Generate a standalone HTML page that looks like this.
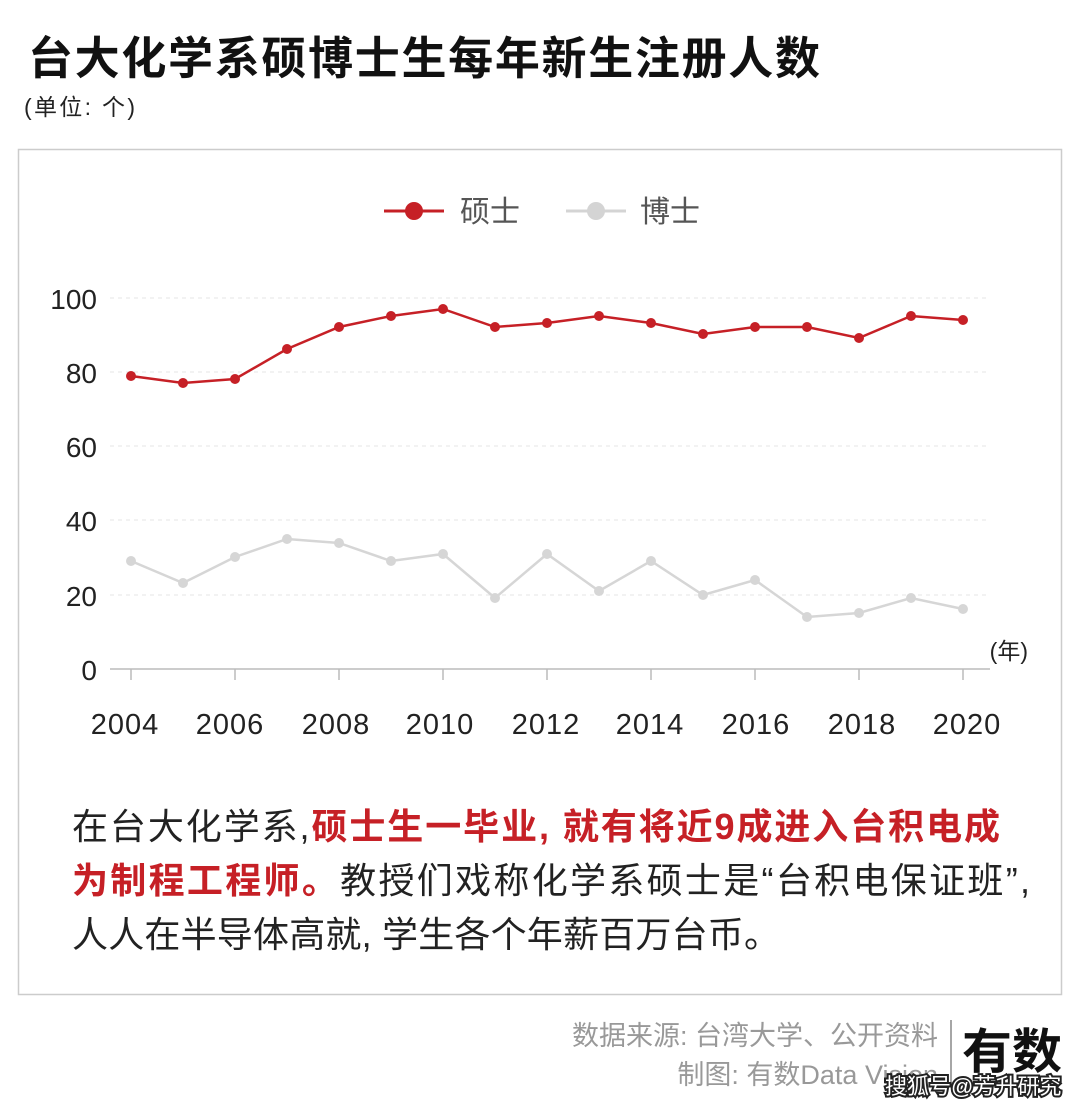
<!DOCTYPE html>
<html><head><meta charset="utf-8"><style>
html,body{margin:0;padding:0;background:#fff;}
svg{display:block;}
text{font-family:"Liberation Sans","Noto Sans CJK SC",sans-serif;}
</style></head><body>
<svg width="1080" height="1112" viewBox="0 0 1080 1112" xmlns="http://www.w3.org/2000/svg">
<rect width="1080" height="1112" fill="#fff"/>
<text x="28" y="74" font-size="45" font-weight="bold" fill="#111" textLength="792" lengthAdjust="spacing">台大化学系硕博士生每年新生注册人数</text>
<text x="24" y="115" font-size="23" fill="#222" textLength="111" lengthAdjust="spacing">(单位: 个)</text>
<rect x="18.5" y="149.5" width="1043" height="845" fill="none" stroke="#ccc" stroke-width="1.5"/>
<line x1="384" y1="211" x2="444" y2="211" stroke="#c62026" stroke-width="3"/>
<circle cx="414" cy="211" r="9" fill="#c62026"/>
<text x="460" y="222" font-size="30" fill="#555">硕士</text>
<line x1="566" y1="211" x2="626" y2="211" stroke="#d4d4d4" stroke-width="3"/>
<circle cx="596" cy="211" r="9" fill="#d4d4d4"/>
<text x="640" y="222" font-size="30" fill="#555">博士</text>
<g stroke="#e4e4e4" stroke-width="1" stroke-dasharray="4,4">
<line x1="110" y1="298" x2="990" y2="298"/>
<line x1="110" y1="372" x2="990" y2="372"/>
<line x1="110" y1="446" x2="990" y2="446"/>
<line x1="110" y1="520" x2="990" y2="520"/>
<line x1="110" y1="595" x2="990" y2="595"/>
</g>
<line x1="110" y1="669" x2="990" y2="669" stroke="#bbb" stroke-width="1.5"/>
<g font-size="28" fill="#222" text-anchor="end">
<text x="97" y="309">100</text><text x="97" y="383">80</text><text x="97" y="457">60</text>
<text x="97" y="531">40</text><text x="97" y="606">20</text><text x="97" y="680">0</text>
</g>
<text x="1028" y="659" font-size="23" fill="#222" text-anchor="end">(年)</text>
<g stroke="#bbb" stroke-width="1.5">
<line x1="131" y1="669" x2="131" y2="680"/><line x1="235" y1="669" x2="235" y2="680"/><line x1="339" y1="669" x2="339" y2="680"/><line x1="443" y1="669" x2="443" y2="680"/><line x1="547" y1="669" x2="547" y2="680"/><line x1="651" y1="669" x2="651" y2="680"/><line x1="755" y1="669" x2="755" y2="680"/><line x1="859" y1="669" x2="859" y2="680"/><line x1="963" y1="669" x2="963" y2="680"/>
</g>
<g font-size="29" fill="#222" text-anchor="middle" letter-spacing="1">
<text x="125" y="734">2004</text><text x="230" y="734">2006</text><text x="336" y="734">2008</text><text x="440" y="734">2010</text><text x="546" y="734">2012</text><text x="650" y="734">2014</text><text x="756" y="734">2016</text><text x="862" y="734">2018</text><text x="967" y="734">2020</text>
</g>
<polyline fill="none" stroke="#d6d6d6" stroke-width="2.5" points="131,561 183,583 235,557 287,539 339,543 391,561 443,554 495,598 547,554 599,591 651,561 703,595 755,580 807,617 859,613 911,598 963,609"/>
<g fill="#d6d6d6">
<circle cx="131" cy="561" r="5"/><circle cx="183" cy="583" r="5"/><circle cx="235" cy="557" r="5"/><circle cx="287" cy="539" r="5"/><circle cx="339" cy="543" r="5"/><circle cx="391" cy="561" r="5"/><circle cx="443" cy="554" r="5"/><circle cx="495" cy="598" r="5"/><circle cx="547" cy="554" r="5"/><circle cx="599" cy="591" r="5"/><circle cx="651" cy="561" r="5"/><circle cx="703" cy="595" r="5"/><circle cx="755" cy="580" r="5"/><circle cx="807" cy="617" r="5"/><circle cx="859" cy="613" r="5"/><circle cx="911" cy="598" r="5"/><circle cx="963" cy="609" r="5"/>
</g>
<polyline fill="none" stroke="#c62026" stroke-width="2.5" points="131,376 183,383 235,379 287,349 339,327 391,316 443,309 495,327 547,323 599,316 651,323 703,334 755,327 807,327 859,338 911,316 963,320"/>
<g fill="#c62026">
<circle cx="131" cy="376" r="5"/><circle cx="183" cy="383" r="5"/><circle cx="235" cy="379" r="5"/><circle cx="287" cy="349" r="5"/><circle cx="339" cy="327" r="5"/><circle cx="391" cy="316" r="5"/><circle cx="443" cy="309" r="5"/><circle cx="495" cy="327" r="5"/><circle cx="547" cy="323" r="5"/><circle cx="599" cy="316" r="5"/><circle cx="651" cy="323" r="5"/><circle cx="703" cy="334" r="5"/><circle cx="755" cy="327" r="5"/><circle cx="807" cy="327" r="5"/><circle cx="859" cy="338" r="5"/><circle cx="911" cy="316" r="5"/><circle cx="963" cy="320" r="5"/>
</g>
<g font-size="36" fill="#222">
<text x="72" y="839" textLength="928" lengthAdjust="spacing">在台大化学系,<tspan fill="#c62026" font-weight="bold">硕士生一毕业, 就有将近9成进入台积电成</tspan></text>
<text x="72" y="893" textLength="958" lengthAdjust="spacing"><tspan fill="#c62026" font-weight="bold">为制程工程师。</tspan>教授们戏称化学系硕士是“台积电保证班”,</text>
<text x="72" y="947" textLength="708" lengthAdjust="spacing">人人在半导体高就, 学生各个年薪百万台币。</text>
</g>
<g font-size="27" fill="#999" text-anchor="end">
<text x="938" y="1045">数据来源: 台湾大学、公开资料</text>
<text x="938" y="1084">制图: 有数Data Vision</text>
</g>
<line x1="951" y1="1020" x2="951" y2="1085" stroke="#888" stroke-width="1.5"/>
<text x="962" y="1068" font-size="48" font-weight="bold" fill="#111" textLength="100" lengthAdjust="spacingAndGlyphs">有数</text>
<text x="885" y="1094" font-size="22" fill="#fff" stroke="#222" stroke-width="4" paint-order="stroke">搜狐号@芳升研究</text>
</svg>
</body></html>
